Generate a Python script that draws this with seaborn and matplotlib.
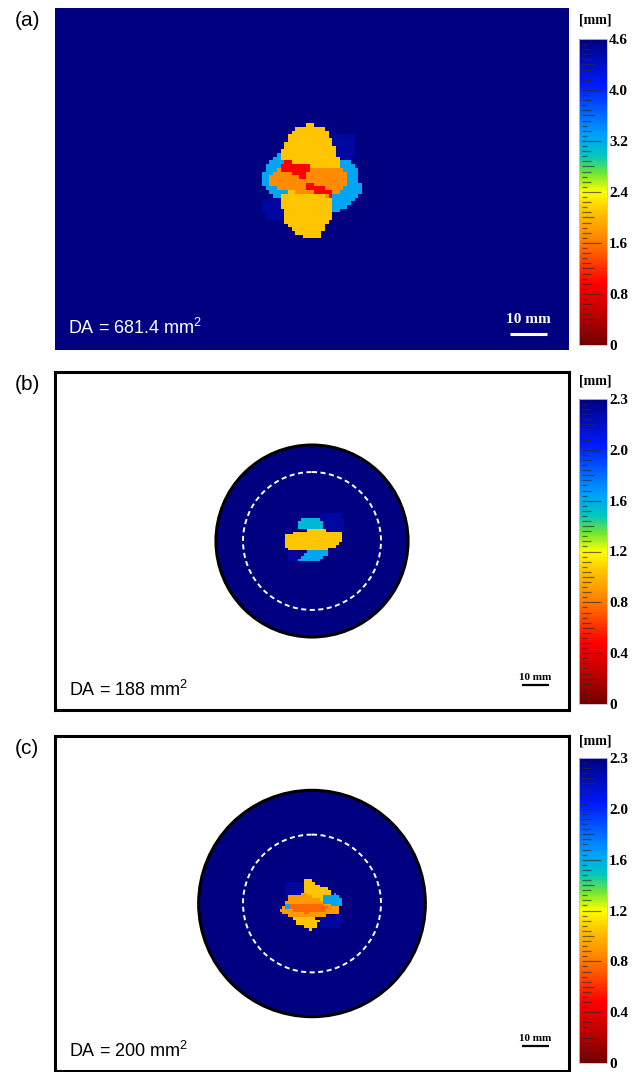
import numpy as np
import matplotlib
matplotlib.use("Agg")
import matplotlib.pyplot as plt
import seaborn as sns
from matplotlib.path import Path
from matplotlib.patches import Circle
from matplotlib.colors import LinearSegmentedColormap

sns.set_theme(style="white")
plt.rcParams['font.family'] = ['Liberation Sans', 'DejaVu Sans']
plt.rcParams['mathtext.fontset'] = 'custom'
plt.rcParams['mathtext.rm'] = 'Liberation Sans'
plt.rcParams['mathtext.it'] = 'Liberation Sans:italic'

# ---------------- data ----------------
panel_labels = ["(a)", "(b)", "(c)"]
damage_area = ["681.4", "188", "200"]          # mm^2

# colour scale of each thickness map [mm]
scale_max = [4.8, 2.4, 2.4]
scale_ticks_a = [0, 0.8, 1.6, 2.4, 3.2, 4.0, 4.8]
scale_labels_a = ["0", "0.8", "1.6", "2.4", "3.2", "4.0", "4.6"]
scale_ticks_bc = [0, 0.4, 0.8, 1.2, 1.6, 2.0, 2.4]
scale_labels_bc = ["0", "0.4", "0.8", "1.2", "1.6", "2.0", "2.3"]

# (a) plate scan, 139 x 92 mm, intact thickness shown as 4.8
a_size = (139, 92)
a_background = 4.8
a_halo = [(61.3, 38.7), (77.0, 40.1), (80.2, 41.4), (82.4, 44.6), (82.6, 50.3),
          (79.7, 53.0), (76.3, 55.0), (74.3, 55.0), (61.3, 51.5), (58.1, 50.3),
          (55.9, 47.0), (55.9, 44.9), (58.6, 40.4)]
a_deep_tr = [(74.3, 33.8), (81.4, 33.8), (81.5, 39.6), (79.3, 41.0), (74.3, 41.0)]
a_deep_bl = [(56.8, 50.9), (61.7, 50.5), (62.2, 57.2), (58.1, 57.2), (56.8, 55.9),
             (55.9, 53.6)]
a_lobe_top = [(65.3, 32.2), (68.0, 31.4), (69.8, 31.4), (73.0, 32.2), (74.3, 33.8),
              (75.0, 36.5), (76.3, 38.7), (76.8, 41.0), (76.6, 42.8), (61.7, 42.8),
              (61.3, 38.7), (62.6, 36.0), (64.0, 33.5)]
a_lobe_bottom = [(60.6, 49.7), (68.5, 49.1), (75.2, 50.0), (75.2, 54.5), (74.8, 56.8),
                 (73.6, 58.1), (72.5, 60.4), (71.8, 61.8), (67.1, 61.8), (64.9, 60.4),
                 (62.6, 58.1), (61.7, 55.9), (61.3, 51.8)]
a_band = [(58.1, 44.9), (60.8, 43.2), (68.9, 42.8), (76.6, 42.5), (78.4, 43.7),
          (79.1, 45.9), (78.4, 48.2), (76.6, 49.7), (74.3, 50.6), (69.8, 50.3),
          (64.4, 49.4), (59.9, 48.8), (57.9, 47.3)]
a_crack_upper = [(60.6, 41.6), (63.9, 41.4), (64.4, 42.3), (69.4, 42.5), (69.8, 43.2),
                 (68.5, 44.1), (67.6, 46.4), (66.2, 46.4), (65.8, 45.0), (63.1, 44.1),
                 (60.8, 44.0)]
a_crack_lower = [(68.0, 47.3), (69.4, 47.0), (69.8, 47.9), (71.2, 48.2), (73.0, 48.6),
                 (75.2, 49.4), (75.0, 50.6), (73.4, 50.4), (72.1, 50.3), (69.8, 49.5),
                 (68.2, 49.1)]
a_values = [3.26, 4.6, 4.6, 2.1, 2.1, 1.72, 0.96, 0.96]

# (b) and (c) coupon scans, 190 x 125 mm, regions given relative to coupon centre
b_size = (190, 125)
b_center = (95.0, 62.5)
b_radius = 35.5
b_background = 2.4
b_deep_tr = [(3.2, -10.5), (11.3, -10.5), (11.9, -4.7), (11.0, -2.8), (5.1, -4.0),
             (3.8, -7.1)]
b_deep_bl = [(-9.5, 3.4), (-4.8, 3.6), (-4.8, 7.7), (-9.1, 7.7)]
b_teal = [(-4.2, -7.8), (-2.3, -8.7), (2.6, -8.7), (3.8, -7.1), (4.5, -4.3),
          (-4.8, -4.0), (-5.0, -5.9)]
b_azure = [(-4.2, 5.8), (-2.3, 4.0), (6.3, 3.1), (5.7, 5.2), (2.6, 7.1), (-4.8, 7.7)]
b_core = [(-9.5, -2.6), (-4.8, -3.4), (0.1, -4.3), (5.1, -4.0), (10.6, -3.4),
          (11.0, -0.4), (9.4, 2.1), (5.1, 3.1), (-1.1, 3.4), (-7.3, 3.6),
          (-10.0, 2.7), (-10.0, -1.6)]
b_values = [2.3, 2.3, 1.55, 1.63, 1.05]

c_size = (190, 124)
c_center = (95.0, 62.0)
c_radius = 41.9
c_background = 2.4
c_deep_tl = [(-10.4, -8.5), (-3.0, -8.5), (-3.0, -3.0), (-9.8, -2.4)]
c_deep_br = [(2.6, 5.0), (10.6, 4.4), (10.6, 8.1), (7.5, 9.4), (2.6, 9.4)]
c_top = [(-3.4, -7.9), (-2.6, -8.8), (0.1, -8.8), (0.7, -7.1), (5.0, -6.1),
         (6.9, -5.1), (6.9, -3.0), (3.8, -1.1), (-2.4, -0.5), (-7.3, -1.1),
         (-6.7, -3.0), (-3.4, -3.6)]
c_core = [(-8.5, -2.6), (-3.0, -3.8), (3.8, -1.1), (8.7, 0.4), (10.6, 2.2),
          (9.7, 3.8), (6.3, 4.2), (2.6, 5.0), (0.1, 6.0), (-4.8, 5.7), (-9.8, 4.4),
          (-11.9, 2.6), (-10.4, 1.1), (-9.2, -1.1)]
c_azure_r = [(4.1, -2.4), (8.7, -3.6), (10.6, -2.1), (11.0, 1.3), (8.1, 0.7),
             (4.4, -0.5)]
c_azure_l = [(-9.8, -0.1), (-8.3, -0.1), (-8.3, 2.0), (-9.8, 2.0)]
c_bottom = [(-6.7, 5.0), (0.1, 5.3), (2.6, 6.3), (2.0, 8.8), (-0.5, 9.7), (-3.6, 8.3),
            (-6.1, 7.5)]
c_hot = [(-7.9, 0.4), (2.6, -0.5), (5.7, 1.3), (3.8, 3.2), (-2.4, 3.6), (-7.3, 2.6)]
c_values = [2.3, 2.3, 1.05, 0.9, 1.63, 1.63, 1.05, 0.75]
dashed_radius = 25.5

# thickness colour map, dark red (thin) -> navy (intact)
cmap = LinearSegmentedColormap.from_list("thickness", [
    (0.00, (0.45, 0.0, 0.0)), (0.10, (0.75, 0.0, 0.0)), (0.20, (1.0, 0.0, 0.0)),
    (0.34, (1.0, 0.5, 0.0)), (0.44, (1.0, 0.78, 0.0)), (0.50, (1.0, 1.0, 0.0)),
    (0.56, (0.45, 0.9, 0.2)), (0.62, (0.0, 0.78, 0.75)), (0.69, (0.0, 0.62, 1.0)),
    (0.85, (0.0, 0.1, 1.0)), (1.00, (0.0, 0.0, 0.5))])


def rasterize(size, base, layers, offset=(0.0, 0.0)):
    nx, ny = size
    xx, yy = np.meshgrid(np.arange(nx) + 0.5, np.arange(ny) + 0.5)
    pts = np.column_stack([xx.ravel(), yy.ravel()])
    grid = np.full(nx * ny, base, dtype=float)
    for val, poly in layers:
        path = Path(np.asarray(poly, dtype=float) + np.asarray(offset))
        grid[path.contains_points(pts)] = val
    return grid.reshape(ny, nx)


W, H = 636, 1072
fig = plt.figure(figsize=(W / 100, H / 100), dpi=100)


def px_axes(x0, y0, x1, y1):
    return fig.add_axes([x0 / W, 1 - y1 / H, (x1 - x0) / W, (y1 - y0) / H])


serif = dict(family=['Liberation Serif', 'DejaVu Serif'], weight='bold')


def draw_map(ax, cax, grid, vmax, ticks, labels):
    sns.heatmap(grid, ax=ax, cmap=cmap, vmin=0, vmax=vmax, cbar=True, cbar_ax=cax,
                xticklabels=False, yticklabels=False, rasterized=True)
    mesh = ax.collections[0]
    cbar = mesh.colorbar
    cbar.set_ticks(ticks, labels=labels)
    cbar.outline.set_edgecolor('#b8c4dc')
    cbar.outline.set_linewidth(0.6)
    cax.tick_params(length=0, pad=1.5, labelsize=11)
    for t in cax.get_yticklabels():
        t.set_fontfamily(serif['family'])
        t.set_fontweight('bold')
        t.set_color('black')
    step = ticks[1] - ticks[0]
    fine = step / 10
    n = int(round(vmax / fine))
    trans = cax.get_yaxis_transform()
    for k in range(1, n):
        v = k * fine
        if k % 10 == 0:
            x1 = 0.8
        elif k % 5 == 0:
            x1 = 0.55
        elif k % 2 == 0:
            x1 = 0.42
        else:
            x1 = 0.3
        cax.plot([0.1, x1], [v, v], transform=trans, color='#2a2a2a', alpha=0.65,
                 lw=0.9, solid_capstyle='butt')
    return mesh


# ---------------- (a) ----------------
ax_a = px_axes(55, 8, 569, 350)
cax_a = px_axes(579, 39, 607, 345)
grid_a = rasterize(a_size, a_background, list(zip(a_values, [
    a_halo, a_deep_tr, a_deep_bl, a_lobe_top, a_lobe_bottom, a_band,
    a_crack_upper, a_crack_lower])))
draw_map(ax_a, cax_a, grid_a, scale_max[0], scale_ticks_a, scale_labels_a)
ax_a.text(3.5, 87.6, f"DA = {damage_area[0]} mm$^2$", color='white', fontsize=13,
          va='baseline', ha='left')
ax_a.plot([123, 133], [87.6, 87.6], color='white', lw=2.2, solid_capstyle='butt')
ax_a.text(128, 83.8, "10 mm", color='white', fontsize=11, ha='center', va='center',
          **serif)

# ---------------- (b), (c) ----------------
bc = [
    (372, 710, 399, 704, b_size, b_center, b_radius, b_background,
     [b_deep_tr, b_deep_bl, b_teal, b_azure, b_core], b_values, damage_area[1]),
    (736, 1071, 758, 1063, c_size, c_center, c_radius, c_background,
     [c_deep_tl, c_deep_br, c_top, c_core, c_azure_r, c_azure_l, c_bottom, c_hot],
     c_values, damage_area[2]),
]
for (y0, y1, cy0, cy1, size, center, radius, base, polys, vals, da) in bc:
    ax = px_axes(55, y0, 569, y1)
    cax = px_axes(579, cy0, 607, cy1)
    grid = rasterize(size, base, list(zip(vals, polys)), offset=center)
    mesh = draw_map(ax, cax, grid, scale_max[1], scale_ticks_bc, scale_labels_bc)
    ax.set_facecolor('white')
    clip = Circle(center, radius, transform=ax.transData)
    mesh.set_clip_path(clip)
    ax.add_patch(Circle(center, radius, fill=False, ec='black', lw=2.2, zorder=3))
    ax.add_patch(Circle(center, dashed_radius, fill=False, ec='white', lw=1.4,
                        ls=(0, (2.6, 1.8)), zorder=3))
    for sp in ax.spines.values():
        sp.set_visible(True)
        sp.set_color('black')
        sp.set_linewidth(2.2)
    ny = size[1]
    ax.text(5.2, ny - 5.2, f"DA = {da} mm$^2$", color='black', fontsize=13,
            va='baseline', ha='left')
    ax.plot([172.5, 182.5], [ny - 9.2, ny - 9.2], color='black', lw=1.6,
            solid_capstyle='butt')
    ax.text(177.5, ny - 12.0, "10 mm", color='black', fontsize=8, ha='center',
            va='center', **serif)

# panel letters and colour-bar units
for lab, y in zip(panel_labels, [20, 385, 749]):
    fig.text(27 / W, 1 - y / H, lab, ha='center', va='center', fontsize=15,
             color='black')
for y in [20, 381, 741]:
    fig.text(595 / W, 1 - y / H, "[mm]", ha='center', va='center', fontsize=10,
             color='black', **serif)

fig.savefig("out.png", dpi=100)
